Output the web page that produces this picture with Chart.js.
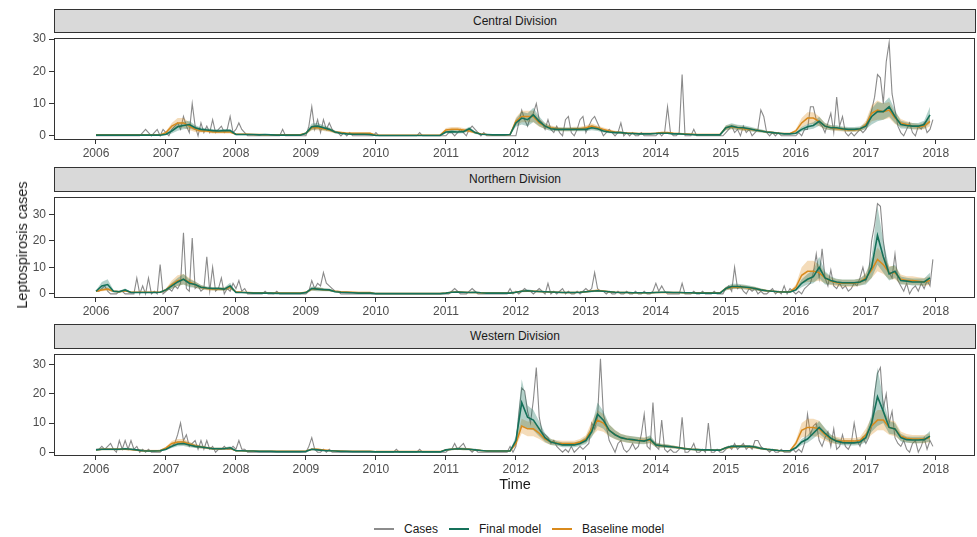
<!DOCTYPE html>
<html>
<head>
<meta charset="utf-8">
<script src="https://cdn.jsdelivr.net/npm/chart.js"></script>
<style>
body { margin:0; width:977px; height:537px; background:#fff; position:relative; overflow:hidden;
       font-family:"Liberation Sans", Arial, sans-serif; }
.strip { position:absolute; left:54px; width:922px; background:#d9d9d9; border:1px solid #333;
         box-sizing:border-box; text-align:center; font-size:12px; color:#1a1a1a; }
canvas { position:absolute; left:0; }
#ytitle { position:absolute; left:22px; top:245px; transform:translate(-50%,-50%) rotate(-90deg);
          white-space:nowrap; font-size:14.5px; color:#1a1a1a; }
#xtitle { position:absolute; left:515px; top:476px; transform:translateX(-50%); font-size:14.5px; color:#1a1a1a; }
#legend { position:absolute; left:374px; top:521px; height:16px; display:flex; align-items:center;
          font-size:12px; color:#1a1a1a; }
#legend .key { width:20px; height:2px; margin-right:10px; }
#legend .lab { margin-right:11px; }
</style>
</head>
<body>
<div class="strip" style="top:9px;height:24px;line-height:22px">Central Division</div>
<div class="strip" style="top:167px;height:25px;line-height:23px">Northern Division</div>
<div class="strip" style="top:324px;height:25px;line-height:23px">Western Division</div>
<canvas id="c1" width="977" height="134" style="top:28px"></canvas>
<canvas id="c2" width="977" height="133" style="top:187px"></canvas>
<canvas id="c3" width="977" height="134" style="top:344px"></canvas>
<div id="ytitle">Leptospirosis cases</div>
<div id="xtitle">Time</div>
<div id="legend">
  <span class="key" style="background:#8c8c8c"></span><span class="lab">Cases</span>
  <span class="key" style="background:#15715a"></span><span class="lab">Final model</span>
  <span class="key" style="background:#d98a1c"></span><span class="lab">Baseline model</span>
</div>
<script>
const firstYear = 2006;
const yearTicks = [2006,2007,2008,2009,2010,2011,2012,2013,2014,2015,2016,2017,2018];
const valueTicks = [0,10,20,30];
const divisions = ['Central Division','Northern Division','Western Division'];

// cases: two values per month, 2006-2017
const centralCases = [
  0,0,0,0,0,0,0,0, 0,0,0,0,0,0,0,0, 1,2,1,0,1,2,0,2,
  1,0,2,3,4,2,6,3, 1,10,3,0,4,1,3,1, 5,1,2,3,1,2,6,1,
  2,4,2,1,0,0,0,0, 0,0,0,0,0,0,0,0, 2,0,0,0,0,0,0,0,
  0,3,9,2,5,1,5,2, 4,2,1,1,0,1,0,1, 0,0,0,0,0,0,0,0,
  1,0,0,0,0,0,0,0, 0,0,0,0,0,0,0,1, 0,0,0,0,0,0,0,0,
  0,1,1,0,1,2,1,0, 2,3,2,1,0,1,0,0, 0,0,0,0,0,0,0,0,
  0,4,8,5,3,6,7,10, 5,4,2,5,2,1,3,1, 0,5,6,1,0,2,5,6,
  1,3,5,6,4,2,0,1, 2,1,0,1,4,0,1,0, 1,0,0,1,0,0,0,0,
  0,1,0,1,9,1,0,0, 1,19,0,0,0,2,0,0, 0,0,0,0,0,0,0,0,
  1,2,3,1,2,0,3,1, 2,0,1,2,8,6,1,0, 1,0,1,0,0,0,0,0,
  0,1,0,2,2,9,9,5, 4,3,1,4,7,1,12,3, 6,1,0,1,0,1,2,1,
  2,4,8,12,19,18,10,23, 29,13,8,3,1,0,2,4, 1,0,3,2,4,1,2,5
];
const northernCases = [
  1,1,2,3,1,0,0,0, 1,1,0,0,0,0,6,0, 3,0,6,0,1,0,11,0,
  1,2,1,3,2,4,23,2, 1,21,2,3,1,2,14,1, 10,1,2,6,0,2,1,4,
  2,5,1,2,0,0,0,0, 0,0,1,0,0,0,1,0, 0,0,0,0,0,0,0,0,
  0,1,5,2,4,3,8,4, 3,2,1,1,0,0,0,0, 0,0,0,0,0,0,0,0,
  0,0,0,0,0,0,0,0, 0,0,0,0,0,0,0,0, 0,0,0,0,0,0,0,0,
  0,0,1,2,1,0,0,0, 1,2,1,0,0,0,0,0, 0,0,0,0,0,0,2,0,
  1,0,1,2,1,1,0,1, 2,1,0,4,0,1,0,1, 2,0,1,0,0,1,0,1,
  2,1,2,8,2,1,1,0, 1,0,0,1,0,0,1,0, 0,1,0,0,1,0,0,1,
  4,1,3,1,0,0,0,0, 0,4,0,0,0,1,0,0, 1,0,0,0,1,0,0,0,
  2,3,1,10,2,3,1,0, 2,1,2,0,1,0,0,1, 2,0,1,0,3,0,2,1,
  0,1,0,2,3,4,8,15, 6,17,6,3,9,3,2,4, 2,3,1,2,4,3,6,10,
  5,8,20,26,34,33,20,12, 8,6,15,5,3,1,4,0, 2,3,1,4,2,5,3,13
];
const westernCases = [
  1,1,2,1,2,3,1,0, 4,1,4,1,4,1,2,0, 1,0,1,0,0,0,0,1,
  1,2,2,3,6,10,4,6, 2,3,4,1,4,1,4,1, 2,0,1,1,2,1,1,2,
  1,4,1,1,0,0,0,0, 0,0,0,0,0,0,0,0, 0,0,0,0,0,0,0,0,
  0,2,5,1,0,0,1,0, 1,0,0,0,0,0,0,0, 0,0,0,0,0,0,0,0,
  0,0,0,0,0,0,0,1, 0,0,0,0,0,0,0,1, 0,0,0,0,0,0,0,0,
  0,1,1,3,1,2,3,1, 1,0,1,0,0,0,0,0, 0,0,0,0,0,0,2,0,
  2,13,22,21,14,10,18,29, 12,7,6,5,3,4,2,1, 0,1,0,2,0,1,2,1,
  2,3,10,8,12,32,13,9, 4,2,0,3,4,1,0,1, 3,1,2,6,13,2,1,17,
  2,1,11,1,0,1,0,0, 1,12,0,0,1,3,0,0, 1,0,10,0,0,1,0,0,
  1,2,1,3,1,2,3,1, 2,1,4,4,2,1,1,0, 1,0,0,1,0,0,0,1,
  0,1,0,3,13,6,9,10, 4,2,5,7,2,8,1,2, 6,2,1,3,10,4,2,5,
  3,5,9,20,27,29,15,20, 10,14,5,3,2,4,1,0, 3,4,0,2,5,1,4,2
];

// model fits: one value per month, with the half width of the shaded band
const centralFinal = [
  .2,.2,.2,.2,.2,.2, .2,.2,.2,.2,.2,.2,
  .5,1.5,2.8,3.2,3.5,2.5, 2,1.8,1.6,1.5,1.6,1.6,
  .4,.4,.4,.4,.3,.4, .3,.2,.2,.2,.2,.2,
  .8,2.8,3,2.5,2,1.2, .8,.6,.5,.5,.5,.4,
  .1,.1,.1,.1,.1,.1, .1,.1,.1,.1,.1,.1,
  1.2,1.3,1.2,1.3,2.2,1, .5,.4,.3,.3,.3,.4,
  4,5.5,5,6.5,4.5,3, 2.2,2,2,2,2,2,
  2,2.5,2.2,1.5,1.2,1, 1,.8,.7,.6,.6,.6,
  .7,.8,.8,.6,.6,.5, .4,.3,.3,.3,.3,.3,
  2.5,3,2.6,2.5,2.2,1.8, 1.5,1.2,1,.8,.6,.6,
  .8,2,2.8,3.2,4.5,3, 2.5,2.5,2.2,2,2,2.2,
  3,6,7.5,7.5,9,6, 3.5,3.2,3,3,3.5,6.5
];
const centralFinalBand = [
  .2,.2,.2,.2,.2,.2, .2,.2,.2,.2,.2,.2,
  .3,.8,1.2,1.2,1.2,.8, .6,.5,.5,.5,.5,.5,
  .2,.2,.2,.2,.2,.2, .2,.2,.2,.2,.2,.2,
  .3,1,1,.8,.6,.4, .3,.2,.2,.2,.2,.2,
  .1,.1,.1,.1,.1,.1, .1,.1,.1,.1,.1,.1,
  .4,.5,.5,.5,.6,.4, .2,.2,.2,.2,.2,.2,
  1.2,2,2,2.2,1.5,1, .7,.6,.6,.6,.6,.6,
  .6,.8,.7,.5,.4,.3, .3,.3,.2,.2,.2,.2,
  .2,.2,.2,.2,.2,.2, .2,.2,.2,.2,.2,.2,
  .8,.9,.8,.8,.7,.6, .5,.4,.3,.3,.2,.2,
  .3,.7,.9,1,1.4,1, .8,.8,.7,.7,.7,.7,
  1,2.5,3,2.5,3,2, 1.2,1,1,1,1.2,2.5
];
const centralBase = [
  .3,.3,.3,.3,.3,.3, .3,.3,.3,.3,.3,.3,
  1,3,4,4,3,2, 1.5,1.5,1.2,1.2,1.2,1.2,
  .5,.5,.5,.4,.4,.3, .3,.3,.3,.3,.3,.3,
  .8,2.5,2.5,2.2,1.8,1.2, 1,.8,.8,.8,.8,.8,
  .2,.2,.2,.2,.2,.2, .2,.2,.2,.2,.2,.2,
  1.8,2,2,1.8,1.5,1, .6,.4,.3,.3,.3,.4,
  4.5,6,6,6,4,3, 2.5,2.2,2,2,2.2,2.2,
  2.5,3,2.5,2,1.5,1.2, 1,.8,.8,.7,.7,.7,
  .8,1,1,.8,.7,.6, .5,.4,.4,.4,.4,.4,
  2.5,2.8,2.5,2.2,2,1.8, 1.5,1.2,1,.8,.7,.7,
  1.5,4,5.5,5.5,4.5,3, 2.5,2.2,2,1.8,1.8,2,
  3.5,7,8,7.5,8,5.5, 4,3.5,3,2.8,3,4.5
];
const centralBaseBand = [
  .2,.2,.2,.2,.2,.2, .2,.2,.2,.2,.2,.2,
  .4,1,1.5,1.5,1.2,.8, .5,.5,.5,.5,.5,.5,
  .2,.2,.2,.2,.2,.2, .2,.2,.2,.2,.2,.2,
  .3,.8,.8,.7,.6,.4, .3,.3,.3,.3,.3,.3,
  .1,.1,.1,.1,.1,.1, .1,.1,.1,.1,.1,.1,
  .6,.7,.7,.6,.5,.3, .2,.1,.1,.1,.1,.1,
  1.2,1.8,1.8,1.8,1.2,.9, .7,.6,.6,.6,.6,.6,
  .7,.9,.7,.6,.5,.4, .3,.3,.3,.2,.2,.2,
  .2,.2,.2,.2,.2,.2, .2,.2,.2,.2,.2,.2,
  .7,.8,.7,.7,.6,.5, .4,.3,.3,.3,.2,.2,
  .5,1.5,1.8,1.8,1.5,1, .8,.7,.7,.6,.6,.6,
  1.2,2.5,3,2.5,2.5,1.8, 1.2,1,1,.9,1,1.5
];

const northernFinal = [
  1,3,3.5,1,.8,1.5, .5,.5,.5,.5,.5,.6,
  1.5,3,4.5,5.5,4,3.5, 2.5,2.2,2,2,1.8,3,
  .5,.5,.4,.3,.3,.3, .3,.2,.2,.2,.2,.2,
  .5,2,1.8,1.6,1.5,.8, .6,.5,.4,.3,.3,.3,
  .1,.1,.1,.1,.1,.1, .1,.1,.1,.1,.1,.1,
  .3,.6,.7,.6,.5,.6, .4,.3,.3,.3,.3,.3,
  .6,1,1.2,1,.9,.8, .7,.6,.5,.5,.5,.6,
  .8,1,1.2,1,.8,.6, .5,.5,.4,.4,.4,.4,
  .5,.6,.6,.5,.5,.4, .4,.3,.3,.3,.3,.3,
  2,2.8,2.8,2.6,2.4,2, 1.5,1.2,1,.8,.7,.7,
  1.5,4,5.5,6.5,10,6, 5,4.5,4.2,4.2,4.2,4.5,
  5.5,10,22,14,7.5,8.5, 5,4.8,4.5,4.5,4.5,6
];
const northernFinalBand = [
  .3,1.5,2,.5,.4,.5, .2,.2,.2,.2,.2,.2,
  .5,1.2,1.5,2,1.5,1.2, .8,.6,.6,.6,.6,1.2,
  .2,.2,.2,.2,.2,.2, .2,.2,.2,.2,.2,.2,
  .2,.8,.8,.6,.5,.3, .2,.2,.1,.1,.1,.1,
  .1,.1,.1,.1,.1,.1, .1,.1,.1,.1,.1,.1,
  .1,.2,.3,.2,.2,.2, .1,.1,.1,.1,.1,.1,
  .2,.4,.5,.4,.3,.3, .2,.2,.2,.2,.2,.2,
  .3,.4,.4,.3,.3,.2, .2,.2,.2,.2,.2,.2,
  .2,.2,.2,.2,.2,.2, .2,.2,.2,.2,.2,.2,
  .7,1,1,.9,.8,.7, .5,.4,.3,.3,.3,.3,
  .5,1.5,2,2.5,4,2.5, 1.5,1.2,1.2,1.2,1.2,1.3,
  2,4,11,6,2.5,2.5, 1.5,1.3,1.3,1.3,1.3,2
];
const northernBase = [
  1,1.5,1.8,1,.8,1.2, .6,.6,.6,.6,.6,.6,
  1.5,3.5,5,5.5,4.5,3.5, 2.5,2,1.8,1.8,1.8,2.5,
  .8,.6,.5,.4,.4,.3, .3,.3,.3,.3,.3,.3,
  .6,1.8,1.8,1.6,1.4,1, .8,.7,.6,.5,.5,.5,
  .1,.1,.1,.1,.1,.1, .1,.1,.1,.1,.1,.1,
  .3,.6,.7,.6,.5,.5, .4,.3,.3,.3,.3,.3,
  .6,1,1,1,.9,.8, .7,.6,.5,.5,.5,.6,
  .8,1.1,1.3,1.1,.8,.6, .5,.5,.4,.4,.4,.4,
  .5,.5,.5,.5,.5,.4, .4,.4,.4,.4,.4,.4,
  2,2.5,2.6,2.5,2.2,2, 1.5,1.2,1,.8,.8,.8,
  2.5,7,8.5,8.5,8,6, 4.8,4.2,4,4,4,4.5,
  6,9,13,11,8,8, 5.5,5,5,4.8,4.5,5
];
const northernBaseBand = [
  .3,.5,.6,.3,.3,.4, .2,.2,.2,.2,.2,.2,
  .5,1.5,2,2,1.5,1.2, .8,.6,.6,.6,.6,.8,
  .2,.2,.2,.2,.2,.2, .2,.2,.2,.2,.2,.2,
  .2,.6,.6,.5,.4,.3, .3,.2,.2,.2,.2,.2,
  .1,.1,.1,.1,.1,.1, .1,.1,.1,.1,.1,.1,
  .2,.2,.2,.2,.2,.2, .2,.2,.2,.2,.2,.2,
  .2,.3,.3,.3,.3,.2, .2,.2,.2,.2,.2,.2,
  .3,.4,.4,.3,.3,.2, .2,.2,.2,.2,.2,.2,
  .2,.2,.2,.2,.2,.2, .2,.2,.2,.2,.2,.2,
  .6,.8,.8,.8,.7,.6, .5,.4,.3,.3,.3,.3,
  1,3,4,4,3,2, 1.5,1.3,1.3,1.3,1.3,1.3,
  2,3,4.5,3.5,2.5,2.5, 1.8,1.6,1.6,1.5,1.5,1.6
];

const westernFinal = [
  .8,1,1,1,1,1.2, 1,.8,.5,.4,.4,.5,
  1,2,2.8,3,2.5,2, 1.8,1.5,1.2,1.2,1.2,1.5,
  .5,.5,.4,.4,.3,.3, .3,.2,.2,.2,.2,.2,
  .3,1,.8,.6,.5,.4, .3,.3,.2,.2,.2,.2,
  .1,.1,.1,.1,.1,.1, .1,.1,.1,.1,.1,.1,
  .8,1,1.2,1.1,1,.8, .6,.4,.4,.4,.4,.4,
  4,17,12,11,8,5, 3.5,3,2.5,2.5,2.5,3,
  4,7,13,11,7.5,6, 5,4.5,4.3,4,3.8,4.5,
  2.5,2.2,2,1.8,1.5,1.2, 1,.9,.8,.8,.7,.7,
  1.5,2,2,2,2,1.8, 1.3,1,.8,.6,.5,.5,
  1.5,3.5,4.5,6.5,8.5,6.5, 4.8,3.8,3.3,3.2,3.2,3.5,
  5,10,19,14,8.5,8, 5,4.3,4.2,4.2,4.3,5.5
];
const westernFinalBand = [
  .3,.3,.3,.3,.3,.3, .3,.3,.3,.3,.3,.3,
  .3,.6,.8,.9,.8,.6, .5,.4,.4,.4,.4,.5,
  .2,.2,.2,.2,.2,.2, .2,.2,.2,.2,.2,.2,
  .1,.3,.3,.2,.2,.1, .1,.1,.1,.1,.1,.1,
  .1,.1,.1,.1,.1,.1, .1,.1,.1,.1,.1,.1,
  .3,.3,.4,.4,.3,.3, .2,.2,.2,.2,.2,.2,
  1.5,8,4,3.5,2.5,1.5, 1,.8,.8,.8,.8,.9,
  1.2,2,4,3,2,1.5, 1.2,1.2,1.2,1.2,1.1,1.3,
  .8,.7,.6,.5,.4,.4, .3,.3,.3,.3,.2,.2,
  .4,.5,.5,.5,.5,.5, .4,.3,.3,.2,.2,.2,
  .5,1,1.3,1.8,2.2,1.8, 1.3,1,.9,.9,.9,1,
  1.5,3,10,4,2.2,2, 1.3,1.1,1.1,1.1,1.1,1.8
];
const westernBase = [
  .8,1,1,1,1,1, .9,.7,.5,.5,.5,.5,
  1.5,3,3.5,3.5,2.8,2.2, 1.8,1.5,1.2,1.2,1.2,1.3,
  .5,.5,.4,.4,.3,.3, .3,.3,.3,.3,.3,.3,
  .4,1,1,.8,.6,.5, .4,.3,.3,.3,.3,.3,
  .2,.2,.2,.2,.2,.2, .2,.2,.2,.2,.2,.2,
  .8,1,1.2,1.1,1,.8, .6,.5,.4,.4,.4,.4,
  3,9,8,8,6.5,4.5, 3.5,3.2,3,3,3,3.5,
  4.5,8,11,10,7.5,6, 5,4.5,4.2,4,4,4.2,
  2.5,2.2,2,1.8,1.5,1.2, 1,.9,.8,.8,.7,.7,
  1.5,1.8,2,2,1.9,1.7, 1.3,1,.8,.6,.5,.5,
  3,7.5,8.5,8.5,8,6, 4.5,4,3.8,3.8,3.8,4,
  6,9,11,11,8.5,8, 5.5,4.8,4.5,4.5,4.5,5
];
const westernBaseBand = [
  .3,.3,.3,.3,.3,.3, .3,.3,.3,.3,.3,.3,
  .4,.8,1,1,.8,.6, .5,.4,.4,.4,.4,.4,
  .2,.2,.2,.2,.2,.2, .2,.2,.2,.2,.2,.2,
  .1,.3,.3,.2,.2,.1, .1,.1,.1,.1,.1,.1,
  .1,.1,.1,.1,.1,.1, .1,.1,.1,.1,.1,.1,
  .3,.3,.4,.4,.3,.3, .2,.2,.2,.2,.2,.2,
  1,2.5,2.5,2.5,2,1.3, 1,.9,.9,.9,.9,1,
  1.3,2.5,3.5,3,2,1.6, 1.3,1.2,1.2,1.1,1.1,1.2,
  .7,.6,.6,.5,.4,.4, .3,.3,.3,.3,.2,.2,
  .4,.5,.5,.5,.5,.5, .4,.3,.3,.2,.2,.2,
  1,2.5,3,3,2.8,2, 1.4,1.2,1.1,1.1,1.1,1.2,
  2,3,3.5,3.5,2.5,2.5, 1.6,1.4,1.4,1.4,1.4,1.5
];

const GREY = 'rgba(125,125,125,0.9)';
const GREEN = '#15715a';
const ORANGE = '#d98a1c';
Chart.defaults.font.family = '"Liberation Sans", Arial, sans-serif';

const frame = {
  id: 'frame',
  afterDraw(chart) {
    const a = chart.chartArea, c = chart.ctx;
    c.save();
    c.strokeStyle = '#333';
    c.lineWidth = 1;
    c.strokeRect(Math.round(a.left) + 0.5, Math.round(a.top) + 0.5,
                 Math.round(a.right - a.left) - 1, Math.round(a.bottom - a.top) - 1);
    c.restore();
  }
};

function pts(arr, perYear) {
  return arr.map((v, i) => ({ x: firstYear + i / perYear, y: v }));
}
function band(arr, w, sign) {
  return arr.map((v, i) => ({ x: firstYear + i / 12, y: Math.max(0, v + sign * w[i]) }));
}

function drawPanel(id, cases, fin, finW, base, baseW, yMin, yMax) {
  new Chart(document.getElementById(id), {
    type: 'line',
    data: {
      datasets: [
        { label: 'Final model', data: pts(fin, 12), borderColor: GREEN, borderWidth: 1.6, order: 0 },
        { label: 'Baseline model', data: pts(base, 12), borderColor: ORANGE, borderWidth: 1.5, order: 1 },
        { label: 'final lo', data: band(fin, finW, -1), borderWidth: 0, fill: false, order: 2 },
        { label: 'final hi', data: band(fin, finW, 1), borderWidth: 0, fill: '-1',
          backgroundColor: 'rgba(21,113,90,0.32)', order: 2 },
        { label: 'base lo', data: band(base, baseW, -1), borderWidth: 0, fill: false, order: 3 },
        { label: 'base hi', data: band(base, baseW, 1), borderWidth: 0, fill: '-1',
          backgroundColor: 'rgba(217,138,28,0.3)', order: 3 },
        { label: 'Cases', data: pts(cases, 24), borderColor: GREY, borderWidth: 1.1, order: 4 }
      ]
    },
    options: {
      responsive: false,
      animation: false,
      layout: { padding: { top: 4, right: 2, left: 0, bottom: 0 } },
      elements: { point: { radius: 0 }, line: { tension: 0 } },
      plugins: { legend: { display: false }, tooltip: { enabled: false } },
      scales: {
        x: {
          type: 'linear', min: 2005.4, max: 2018.56,
          afterBuildTicks: s => { s.ticks = yearTicks.map(v => ({ value: v })); },
          afterFit: s => { s.height = 22; },
          grid: { drawOnChartArea: false, color: '#333', tickLength: 4 },
          border: { display: false },
          ticks: { color: '#4d4d4d', font: { size: 12 }, padding: 2, maxRotation: 0,
                   autoSkip: false, callback: v => String(v) }
        },
        y: {
          min: yMin, max: yMax,
          afterBuildTicks: s => { s.ticks = valueTicks.map(v => ({ value: v })); },
          afterFit: s => { s.width = 54; },
          grid: { drawOnChartArea: false, color: '#333', tickLength: 5 },
          border: { display: false },
          ticks: { color: '#4d4d4d', font: { size: 12 }, padding: 3, callback: v => String(v) }
        }
      }
    },
    plugins: [frame]
  });
}

drawPanel('c1', centralCases, centralFinal, centralFinalBand, centralBase, centralBaseBand, -1.3, 30.3);
drawPanel('c2', northernCases, northernFinal, northernFinalBand, northernBase, northernBaseBand, -1.55, 36.4);
drawPanel('c3', westernCases, westernFinal, westernFinalBand, westernBase, westernBaseBand, -1.3, 33.6);
</script>
</body>
</html>
